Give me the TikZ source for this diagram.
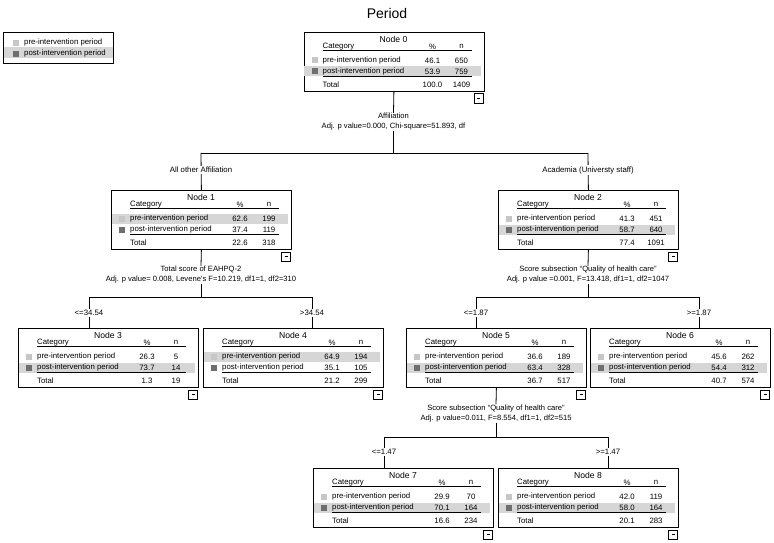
\documentclass[tikz,border=0pt]{standalone}
\usepackage{fontspec}
\setmainfont{Liberation Sans}
\definecolor{bandc}{HTML}{D6D6D6}
\definecolor{prec}{HTML}{C6C6C6}
\definecolor{postc}{HTML}{6E6E6E}
\tikzset{
  nbox/.style={draw=black, line width=0.8pt, minimum width=180pt, minimum height=59pt, inner sep=0pt, anchor=north west},
  legbox/.style={draw=black, line width=0.9pt, minimum width=110pt, minimum height=31pt, inner sep=0pt, anchor=north west},
  tt/.style={font=\fontsize{7.8}{9}\selectfont, inner sep=0pt},
  ttitle/.style={font=\fontsize{8.6}{10}\selectfont, inner sep=0pt},
  conn/.style={draw=black, line width=0.8pt},
  uline/.style={draw=black, line width=0.6pt},
  splitlab/.style={font=\fontsize{7.6}{10}\selectfont, align=center, inner sep=0.5pt},
  blab/.style={font=\fontsize{7.8}{9}\selectfont, fill=white, inner sep=1.5pt},
  minusbox/.style={draw=black, line width=0.6pt, fill=white, minimum width=9pt, minimum height=9pt, inner sep=0pt},
  minusbar/.style={draw=black, line width=0.6pt}
}
% #1 name, #2 node number, #3 pre %, #4 pre n, #5 post %, #6 post n, #7 total %, #8 total n, #9 band centre y
\newcommand\tablecontent[9]{%
  \begin{scope}[shift={(#1.north west)}]
    \fill[bandc] (0.5,#9-5) rectangle (177,#9+5);
    \node[ttitle] (#1-t) at (90,7) {Node #2};
    \node[tt,anchor=west] (#1-c) at (19,14.5) {Category};
    \node[tt] (#1-p) at (129,14.5) {\%};
    \node[tt] (#1-n) at (158,14.5) {n};
    \draw[uline] (19,18.7) -- (168,18.7);
    \fill[prec] (8,25.5) rectangle (14,31.5);
    \node[tt,anchor=west] (#1-r1) at (19,28.5) {pre-intervention period};
    \node[tt] (#1-r1p) at (129,28.5) {#3};
    \node[tt] (#1-r1n) at (158,28.5) {#4};
    \fill[postc] (8,36.5) rectangle (14,42.5);
    \node[tt,anchor=west] (#1-r2) at (19,39.5) {post-intervention period};
    \node[tt] (#1-r2p) at (129,39.5) {#5};
    \node[tt] (#1-r2n) at (158,39.5) {#6};
    \draw[uline] (19,44.5) -- (168,44.5);
    \node[tt,anchor=west] (#1-r3) at (19,52.5) {Total};
    \node[tt] (#1-r3p) at (129,52.5) {#7};
    \node[tt] (#1-r3n) at (158,52.5) {#8};
    \node[minusbox,anchor=north east] (#1-m) at (180,61.5) {};
    \draw[minusbar] ([xshift=-1.5pt]#1-m.center) -- ([xshift=1.5pt]#1-m.center);
  \end{scope}}
\begin{document}
\begin{tikzpicture}[x=1pt,y=-1pt]
\useasboundingbox (0,0) rectangle (774,543);
\fill[white] (0,0) rectangle (774,543);
\node[font=\fontsize{14}{16}\selectfont, inner sep=0pt] (title) at (387,13) {Period};

% legend
\node[legbox] (legend) at (3,32) {};
\begin{scope}[shift={(legend.north west)}]
  \fill[bandc] (0.5,15.5) rectangle (109.5,26);
  \fill[prec] (10,8) rectangle (16,14);
  \fill[postc] (10,19) rectangle (16,25.5);
  \node[tt,anchor=west] (leg-pre) at (21,10) {pre-intervention period};
  \node[tt,anchor=west] (leg-post) at (21,21) {post-intervention period};
\end{scope}

% boxes
\node[nbox] (n0) at (303.5,32) {};
\node[nbox] (n1) at (111,190) {};
\node[nbox] (n2) at (498,190) {};
\node[nbox] (n3) at (18,328) {};
\node[nbox] (n4) at (203,328) {};
\node[nbox] (n5) at (406,328) {};
\node[nbox] (n6) at (590,328) {};
\node[nbox] (n7) at (313,468) {};
\node[nbox] (n8) at (498,468) {};

\tablecontent{n0}{0}{46.1}{650}{53.9}{759}{100.0}{1409}{39.5}
\tablecontent{n1}{1}{62.6}{199}{37.4}{119}{22.6}{318}{28.5}
\tablecontent{n2}{2}{41.3}{451}{58.7}{640}{77.4}{1091}{39.5}
\tablecontent{n3}{3}{26.3}{5}{73.7}{14}{1.3}{19}{39.5}
\tablecontent{n4}{4}{64.9}{194}{35.1}{105}{21.2}{299}{28.5}
\tablecontent{n5}{5}{36.6}{189}{63.4}{328}{36.7}{517}{39.5}
\tablecontent{n6}{6}{45.6}{262}{54.4}{312}{40.7}{574}{39.5}
\tablecontent{n7}{7}{29.9}{70}{70.1}{164}{16.6}{234}{39.5}
\tablecontent{n8}{8}{42.0}{119}{58.0}{164}{20.1}{283}{39.5}

% split labels
\node[splitlab] (lab0) at (393.5,122) {Affiliation\\Adj. p value=0.000, Chi-square=51.893, df};
\node[splitlab] (lab1) at (201,275) {Total score of EAHPQ-2\\Adj. p value= 0.008, Levene's F=10.219, df1=1, df2=310};
\node[splitlab] (lab2) at (588,275) {Score subsection “Quality of health care”\\Adj. p value =0.001, F=13.418, df1=1, df2=1047};
\node[splitlab] (lab5) at (496,413.5) {Score subsection “Quality of health care”\\Adj. p value=0.011, F=8.554, df1=1, df2=515};

% junctions
\coordinate (j0) at (393.5,153);
\coordinate (b1) at (201,153);
\coordinate (b2) at (588,153);
\coordinate (j1) at (201,297);
\coordinate (b3) at (89,297);
\coordinate (b4) at (312,297);
\coordinate (j2) at (588,297);
\coordinate (b5) at (476,297);
\coordinate (b6) at (699,297);
\coordinate (j5) at (496,437);
\coordinate (b7) at (384,437);
\coordinate (b8) at (608,437);

% connectors
\draw[conn] (n0.south) -- (lab0.north);
\draw[conn] (lab0.south) -- (j0);
\draw[conn] (b1) -- (b2);
\draw[conn] (b1) -- (n1.north);
\draw[conn] (b2) -- (n2.north);

\draw[conn] (n1.south) -- (lab1.north);
\draw[conn] (lab1.south) -- (j1);
\draw[conn] (b3) -- (b4);
\draw[conn] (b3) -- (b3 |- n3.north);
\draw[conn] (b4) -- (b4 |- n4.north);

\draw[conn] (n2.south) -- (lab2.north);
\draw[conn] (lab2.south) -- (j2);
\draw[conn] (b5) -- (b6);
\draw[conn] (b5) -- (b5 |- n5.north);
\draw[conn] (b6) -- (b6 |- n6.north);

\draw[conn] (n5.south) -- (lab5.north);
\draw[conn] (lab5.south) -- (j5);
\draw[conn] (b7) -- (b8);
\draw[conn] (b7) -- (b7 |- n7.north);
\draw[conn] (b8) -- (b8 |- n8.north);

% branch labels
\node[blab] (bl1) at (201,170) {All other Affiliation};
\node[blab] (bl2) at (588,170) {Academia (Universty staff)};
\node[blab] (bl3) at (89,313) {<=34.54};
\node[blab] (bl4) at (312,313) {>34.54};
\node[blab] (bl5) at (476,313) {<=1.87};
\node[blab] (bl6) at (699,313) {>=1.87};
\node[blab] (bl7) at (384,452) {<=1.47};
\node[blab] (bl8) at (608,452) {>=1.47};
\end{tikzpicture}
\end{document}
